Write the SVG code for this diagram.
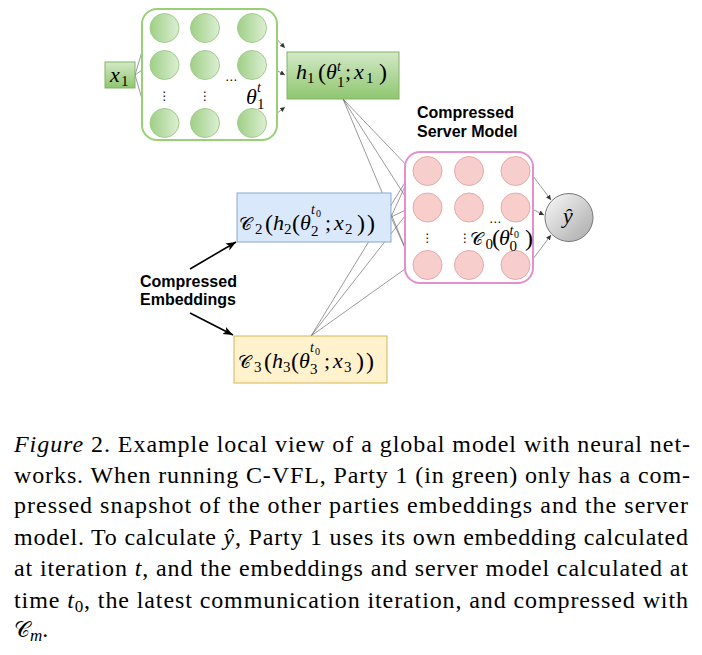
<svg xmlns="http://www.w3.org/2000/svg" width="702" height="655" viewBox="0 0 702 655">
<defs>
<linearGradient id="gc" x1="0" y1="0" x2="1" y2="0"><stop offset="0" stop-color="#9fcf86"/><stop offset="1" stop-color="#dcefd3"/></linearGradient>
<linearGradient id="gb" x1="0" y1="0" x2="0" y2="1"><stop offset="0" stop-color="#d3e9c7"/><stop offset="1" stop-color="#8fc66f"/></linearGradient>
<linearGradient id="gy" x1="0" y1="0" x2="1" y2="1"><stop offset="0" stop-color="#fafafa"/><stop offset="1" stop-color="#a8a8a8"/></linearGradient>
<marker id="a" markerWidth="6" markerHeight="6" refX="5" refY="3" orient="auto" markerUnits="userSpaceOnUse"><path d="M0,0.6 L5,3 L0,5.4 z" fill="#333"/></marker>
<marker id="b" markerWidth="11" markerHeight="10" refX="10" refY="5" orient="auto" markerUnits="userSpaceOnUse"><path d="M0,1 L10,5 L0,9 L2.5,5 z" fill="#000"/></marker>
<style>
.gcir{fill:url(#gc);stroke:#a2cd8d;stroke-width:1}
.pcir{fill:#f8cecc;stroke:#e3aaa8;stroke-width:1}
.c{stroke:#555;stroke-width:0.6;fill:none;marker-end:url(#a)}
.k{stroke:#000;stroke-width:1.6;fill:none;marker-end:url(#b)}
.m{font-family:"Liberation Serif","Times New Roman",serif;font-style:italic;font-size:22px;fill:#000}
.up{font-style:normal}
.sb{font-style:normal;font-size:15px}
.si{font-size:14px}
.st{font-style:normal;font-size:10px}
.p{font-style:normal;font-size:24px}
.cal{font-family:"DejaVu Serif","Liberation Serif",serif;font-style:normal;font-size:18px}
.dots{font-family:"DejaVu Sans",sans-serif;font-size:12px;fill:#000;text-anchor:middle}
.lab{font-family:"Liberation Sans",Arial,sans-serif;font-weight:bold;font-size:16px;fill:#000}
.cap{font-family:"Liberation Serif","Times New Roman",serif;font-size:24px;fill:#000}
</style>
</defs>
<rect width="702" height="655" fill="#fff"/>

<g id="connectors">
<line class="c" x1="135" y1="75" x2="149" y2="28"/>
<line class="c" x1="135" y1="75" x2="149" y2="65"/>
<line class="c" x1="135" y1="75" x2="149" y2="123"/>
<line class="c" x1="179" y1="28" x2="190" y2="28"/>
<line class="c" x1="179" y1="28" x2="190" y2="65"/>
<line class="c" x1="179" y1="28" x2="190" y2="123"/>
<line class="c" x1="179" y1="65" x2="190" y2="28"/>
<line class="c" x1="179" y1="65" x2="190" y2="65"/>
<line class="c" x1="179" y1="65" x2="190" y2="123"/>
<line class="c" x1="179" y1="123" x2="190" y2="28"/>
<line class="c" x1="179" y1="123" x2="190" y2="65"/>
<line class="c" x1="179" y1="123" x2="190" y2="123"/>
<line class="c" x1="267" y1="29" x2="285" y2="48"/>
<line class="c" x1="267" y1="65" x2="285" y2="75"/>
<line class="c" x1="267" y1="121" x2="285" y2="107"/>
<line class="c" x1="343" y1="99" x2="412" y2="171"/>
<line class="c" x1="343" y1="99" x2="412" y2="207"/>
<line class="c" x1="343" y1="99" x2="412" y2="264"/>
<line class="c" x1="391" y1="217" x2="412" y2="171"/>
<line class="c" x1="391" y1="217" x2="412" y2="207"/>
<line class="c" x1="391" y1="217" x2="412" y2="264"/>
<line class="c" x1="311" y1="336" x2="412" y2="171"/>
<line class="c" x1="311" y1="336" x2="412" y2="207"/>
<line class="c" x1="311" y1="336" x2="412" y2="264"/>
<line class="c" x1="530" y1="172" x2="551" y2="200"/>
<line class="c" x1="530" y1="208" x2="544" y2="215"/>
<line class="c" x1="530" y1="263" x2="551" y2="235"/>
<line class="k" x1="190" y1="269" x2="236" y2="242"/>
<line class="k" x1="190" y1="313" x2="233" y2="335"/>
</g>

<g id="party1-net">
<rect x="142" y="9" width="135" height="131" rx="15" fill="#fff" stroke="#97d077" stroke-width="2"/>
<circle class="gcir" cx="164.5" cy="28" r="14.5"/>
<circle class="gcir" cx="164.5" cy="65" r="14.5"/>
<circle class="gcir" cx="164.5" cy="123" r="14.5"/>
<circle class="gcir" cx="205" cy="28" r="14.5"/>
<circle class="gcir" cx="205" cy="65" r="14.5"/>
<circle class="gcir" cx="205" cy="123" r="14.5"/>
<circle class="gcir" cx="252" cy="28" r="14.5"/>
<circle class="gcir" cx="252" cy="65" r="14.5"/>
<circle class="gcir" cx="252" cy="123" r="14.5"/>
<text class="dots" x="164.5" y="100">⋮</text>
<text class="dots" x="205" y="100">⋮</text>
<text class="dots" x="231" y="84">⋯</text>
<text class="m"><tspan x="246" y="104">θ</tspan><tspan class="si" x="257" y="92">t</tspan><tspan class="sb" x="257" y="109">1</tspan></text>
</g>

<g id="x1">
<rect x="105" y="62" width="30" height="26" fill="url(#gb)" stroke="#82b366" stroke-width="1"/>
<text class="m"><tspan x="110" y="82">x</tspan><tspan class="sb" x="121" y="86">1</tspan></text>
</g>

<g id="h1">
<rect x="287" y="52" width="112" height="47" fill="url(#gb)" stroke="#82b366" stroke-width="1"/>
<text class="m"><tspan x="296" y="79">h</tspan><tspan class="sb" x="307" y="83">1</tspan><tspan class="p" x="318" y="80">(</tspan><tspan x="326" y="79">θ</tspan><tspan class="si" x="337" y="71">t</tspan><tspan class="sb" x="337" y="87">1</tspan><tspan class="up" x="345" y="79">;</tspan><tspan x="354" y="79">x</tspan><tspan class="sb" x="366" y="83">1</tspan><tspan class="p" x="379" y="80">)</tspan></text>
</g>

<g id="c2">
<rect x="237" y="193" width="154" height="49" fill="#dae8fc" stroke="#8ba7d0" stroke-width="1"/>
<text class="m"><tspan class="cal" x="239" y="230">𝒞</tspan><tspan class="sb" x="255" y="234">2</tspan><tspan class="p" x="265" y="231">(</tspan><tspan x="273" y="230">h</tspan><tspan class="sb" x="284" y="234">2</tspan><tspan class="p" x="292" y="231">(</tspan><tspan x="300" y="230">θ</tspan><tspan class="si" x="311" y="214">t</tspan><tspan class="st" x="316" y="217">0</tspan><tspan class="sb" x="311" y="236">2</tspan><tspan class="up" x="325" y="230">;</tspan><tspan x="334" y="230">x</tspan><tspan class="sb" x="345" y="234">2</tspan><tspan class="p" x="357" y="231">)</tspan><tspan class="p" x="367" y="231">)</tspan></text>
</g>

<g id="c3">
<rect x="234" y="336" width="153" height="47" fill="#fff2cc" stroke="#d6b656" stroke-width="1"/>
<text class="m" transform="translate(-1,138)"><tspan class="cal" x="239" y="230">𝒞</tspan><tspan class="sb" x="255" y="234">3</tspan><tspan class="p" x="265" y="231">(</tspan><tspan x="273" y="230">h</tspan><tspan class="sb" x="284" y="234">3</tspan><tspan class="p" x="292" y="231">(</tspan><tspan x="300" y="230">θ</tspan><tspan class="si" x="311" y="214">t</tspan><tspan class="st" x="316" y="217">0</tspan><tspan class="sb" x="311" y="236">3</tspan><tspan class="up" x="325" y="230">;</tspan><tspan x="334" y="230">x</tspan><tspan class="sb" x="345" y="234">3</tspan><tspan class="p" x="357" y="231">)</tspan><tspan class="p" x="367" y="231">)</tspan></text>
</g>

<g id="server">
<rect x="405" y="152" width="128" height="131" rx="15" fill="#fff" stroke="#e38fd1" stroke-width="2"/>
<circle class="pcir" cx="427.5" cy="171" r="14.5"/>
<circle class="pcir" cx="427.5" cy="207.5" r="14.5"/>
<circle class="pcir" cx="427.5" cy="265" r="14.5"/>
<circle class="pcir" cx="469" cy="171" r="14.5"/>
<circle class="pcir" cx="469" cy="207.5" r="14.5"/>
<circle class="pcir" cx="469" cy="265" r="14.5"/>
<circle class="pcir" cx="515.5" cy="171" r="14.5"/>
<circle class="pcir" cx="515.5" cy="207.5" r="14.5"/>
<circle class="pcir" cx="515.5" cy="265" r="14.5"/>
<text class="dots" x="427.5" y="242">⋮</text>
<text class="dots" x="465" y="242">⋮</text>
<text class="dots" x="495" y="226">⋯</text>
<text class="m"><tspan class="cal" x="470" y="245">𝒞</tspan><tspan class="sb" x="485.5" y="249">0</tspan><tspan class="p" x="492" y="246">(</tspan><tspan x="499" y="245">θ</tspan><tspan class="si" x="509.5" y="235">t</tspan><tspan class="st" x="514" y="238">0</tspan><tspan class="sb" x="509.5" y="251">0</tspan><tspan class="p" x="525" y="246">)</tspan></text>
</g>

<g id="yhat">
<circle cx="569" cy="217.5" r="24" fill="url(#gy)" stroke="#777" stroke-width="1"/>
<text class="m" x="568" y="223" text-anchor="middle">ŷ</text>
</g>

<g id="label-server">
<text class="lab" x="417" y="118">Compressed</text>
<text class="lab" x="417" y="137">Server Model</text>
</g>

<g id="label-embeddings">
<text class="lab" x="140" y="287">Compressed</text>
<text class="lab" x="140" y="305">Embeddings</text>
</g>

<g id="caption">
<text class="cap" x="14" y="452" textLength="676" lengthAdjust="spacing"><tspan font-style="italic">Figure</tspan> 2. Example local view of a global model with neural net-</text>
<text class="cap" x="14" y="482.5" textLength="676" lengthAdjust="spacing">works. When running C-VFL, Party 1 (in green) only has a com-</text>
<text class="cap" x="14" y="513" textLength="674" lengthAdjust="spacing">pressed snapshot of the other parties embeddings and the server</text>
<text class="cap" x="14" y="544.5" textLength="674" lengthAdjust="spacing">model. To calculate <tspan font-style="italic">ŷ</tspan>, Party 1 uses its own embedding calculated</text>
<text class="cap" x="14" y="576" textLength="674" lengthAdjust="spacing">at iteration <tspan font-style="italic">t</tspan>, and the embeddings and server model calculated at</text>
<text class="cap" x="14" y="607.5" textLength="674" lengthAdjust="spacing">time <tspan font-style="italic">t</tspan><tspan font-size="17" dy="4">0</tspan><tspan dy="-4">, the latest communication iteration, and compressed with</tspan></text>
<text class="cap" x="14" y="637"><tspan font-family="DejaVu Serif,serif" font-size="22">𝒞</tspan><tspan font-style="italic" font-size="17" dy="4">m</tspan><tspan dy="-4">.</tspan></text>
</g>
</svg>
